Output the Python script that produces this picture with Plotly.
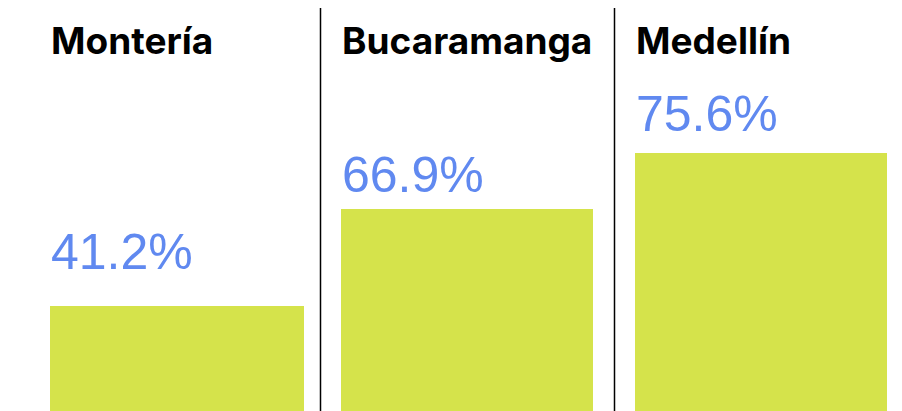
import plotly.graph_objects as go

# Share of respondents per city
cities = ["Montería", "Bucaramanga", "Medellín"]
shares = [41.2, 66.9, 75.6]
value_labels = ["41.2%", "66.9%", "75.6%"]

# Per-panel vertical extent of each y axis
axis_tops = [161.3, 136.1, 120.4]

W, H = 902, 411
bar_color = "#d5e34b"
label_color = "#6089f0"

panel_domains = [(50, 304), (341, 593), (635, 887)]
title_centers = [40, 40, 40]
label_centers = [251.5, 174.5, 114]

fig = go.Figure()
for i, (city, val, lab) in enumerate(zip(cities, shares, value_labels)):
    n = "" if i == 0 else str(i + 1)
    fig.add_trace(go.Bar(
        x=[0], y=[val], xaxis="x" + n, yaxis="y" + n,
        marker=dict(color=bar_color, line=dict(width=0)),
        width=1, hoverinfo="skip", showlegend=False,
    ))
    x0, x1 = panel_domains[i]
    fig.layout["xaxis" + n] = dict(domain=[x0 / W, x1 / W], range=[-0.5, 0.5],
                                   visible=False, fixedrange=True)
    fig.layout["yaxis" + n] = dict(domain=[0, 1], range=[0, axis_tops[i]],
                                   visible=False, fixedrange=True,
                                   anchor="x" + n)
    fig.add_annotation(
        text=city, xref="paper", yref="paper",
        x=(x0 - 1) / W, y=1 - title_centers[i] / H,
        xanchor="left", yanchor="middle", showarrow=False,
        font=dict(family="Inter", size=37, color="#000000", weight=700),
    )
    fig.add_annotation(
        text=lab, xref="paper", yref="paper",
        x=(x0 - 1) / W, y=1 - label_centers[i] / H,
        xanchor="left", yanchor="middle", showarrow=False,
        font=dict(family="Liberation Sans", size=50, color=label_color,
                  weight=400),
    )

# Vertical dividers between the panels
for xd in (320.5, 614.5):
    fig.add_shape(type="line", xref="paper", yref="paper",
                  x0=xd / W, x1=xd / W, y0=0, y1=1 - 8 / H,
                  line=dict(color="#000000", width=1.5))

fig.update_layout(
    width=W, height=H,
    margin=dict(l=0, r=0, t=0, b=0),
    paper_bgcolor="#ffffff", plot_bgcolor="rgba(0,0,0,0)",
    bargap=0,
)

fig.write_html("out.html", config={"displayModeBar": False})
